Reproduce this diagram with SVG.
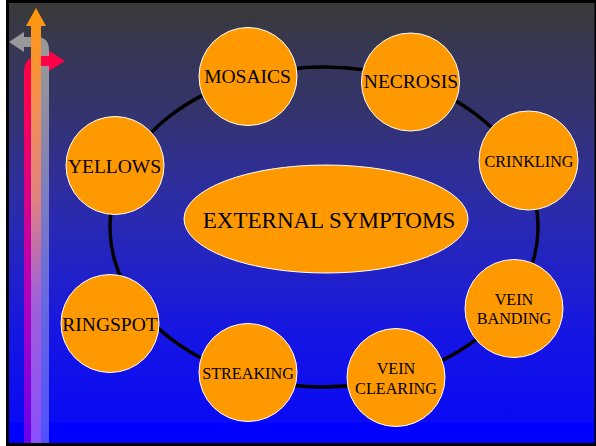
<svg xmlns="http://www.w3.org/2000/svg" width="596" height="446" viewBox="0 0 596 446">
  <defs>
    <linearGradient id="bg" gradientUnits="userSpaceOnUse" x1="0" y1="0" x2="0" y2="446">
      <stop offset="0" stop-color="#3a3a36"/>
      <stop offset="0.135" stop-color="#36365a"/>
      <stop offset="0.247" stop-color="#34346c"/>
      <stop offset="0.36" stop-color="#30308e"/>
      <stop offset="0.49" stop-color="#2a2ab0"/>
      <stop offset="0.63" stop-color="#2020cc"/>
      <stop offset="0.74" stop-color="#1616e2"/>
      <stop offset="0.945" stop-color="#0a0af4"/>
      <stop offset="0.95" stop-color="#0000ff"/>
      <stop offset="1" stop-color="#0000ff"/>
    </linearGradient>
    <linearGradient id="gOrange" gradientUnits="userSpaceOnUse" x1="0" y1="0" x2="0" y2="446">
      <stop offset="0" stop-color="#ff9900"/>
      <stop offset="0.22" stop-color="#f59050"/>
      <stop offset="0.45" stop-color="#e08080"/>
      <stop offset="0.67" stop-color="#a060d8"/>
      <stop offset="1" stop-color="#8a50ff"/>
    </linearGradient>
    <linearGradient id="gRed" gradientUnits="userSpaceOnUse" x1="0" y1="0" x2="0" y2="446">
      <stop offset="0.1" stop-color="#ff0044"/>
      <stop offset="0.22" stop-color="#ff0050"/>
      <stop offset="0.67" stop-color="#b000c0"/>
      <stop offset="1" stop-color="#6600ee"/>
    </linearGradient>
    <linearGradient id="gGray" gradientUnits="userSpaceOnUse" x1="0" y1="0" x2="0" y2="446">
      <stop offset="0.08" stop-color="#999999"/>
      <stop offset="0.22" stop-color="#9090a0"/>
      <stop offset="0.67" stop-color="#6868e0"/>
      <stop offset="1" stop-color="#5050ff"/>
    </linearGradient>
    <style>
      .node circle { fill: #ff9900; stroke: #ffffff; stroke-width: 1; }
      .center ellipse { fill: #ff9900; stroke: #ffffff; stroke-width: 1; }
      text { font-family: "Liberation Serif", "Times New Roman", serif; fill: #000000; text-anchor: middle; }
      .big { font-size: 19.5px; }
      .small { font-size: 16.2px; }
      .title { font-size: 23px; }
    </style>
  </defs>

  <rect x="0" y="0" width="596" height="446" fill="#ffffff"/>
  <rect x="6" y="0" width="590" height="446" fill="url(#bg)"/>

  <g id="decor-arrows">
    <path d="M41 443 L41 55 Q41 47 34 47 L24 47 L24 52 L9 42 L24 32 L24 37 L36 37 Q49 37 49 50 L49 443 Z" fill="url(#gGray)"/>
    <path d="M24 443 L24 72 Q24 56 40 56 L49 56 L49 51 L65 61 L49 71 L49 66 L42 66 Q33 66 33 75 L33 443 Z" fill="url(#gRed)"/>
    <path d="M31 443 L31 26 L26 26 L36 8 L46 26 L41 26 L41 443 Z" fill="url(#gOrange)"/>
  </g>

  <g id="connectors">
    <ellipse cx="324" cy="227" rx="214" ry="160" fill="none" stroke="#000000" stroke-width="3.5"/>
  </g>

  <g id="center" class="center">
    <ellipse cx="326" cy="219" rx="142" ry="54"/>
    <text class="title" x="329" y="228">EXTERNAL SYMPTOMS</text>
  </g>

  <g id="mosaics" class="node">
    <circle cx="248" cy="76.5" r="49"/>
    <text class="big" x="247.5" y="83">MOSAICS</text>
  </g>
  <g id="necrosis" class="node">
    <circle cx="410.5" cy="82" r="49"/>
    <text class="big" x="411" y="88">NECROSIS</text>
  </g>
  <g id="crinkling" class="node">
    <circle cx="528.5" cy="160.5" r="49.5"/>
    <text class="small" x="529" y="167">CRINKLING</text>
  </g>
  <g id="vein-banding" class="node">
    <circle cx="514" cy="308.5" r="49"/>
    <text class="small" x="514" y="305">VEIN</text>
    <text class="small" x="514" y="324">BANDING</text>
  </g>
  <g id="vein-clearing" class="node">
    <circle cx="396" cy="377.5" r="49"/>
    <text class="small" x="396" y="374">VEIN</text>
    <text class="small" x="396" y="394">CLEARING</text>
  </g>
  <g id="streaking" class="node">
    <circle cx="248" cy="372.5" r="49"/>
    <text class="small" x="248" y="379">STREAKING</text>
  </g>
  <g id="ringspot" class="node">
    <circle cx="110" cy="323.5" r="49"/>
    <text class="big" x="110" y="331">RINGSPOT</text>
  </g>
  <g id="yellows" class="node">
    <circle cx="115" cy="165.5" r="49"/>
    <text class="big" x="114.5" y="173">YELLOWS</text>
  </g>

  <g id="frame" fill="#000000">
    <rect x="6" y="0" width="590" height="3"/>
    <rect x="6" y="0" width="3" height="446"/>
    <rect x="6" y="443" width="590" height="3"/>
    <rect x="594.5" y="0" width="1.5" height="446"/>
  </g>
</svg>
